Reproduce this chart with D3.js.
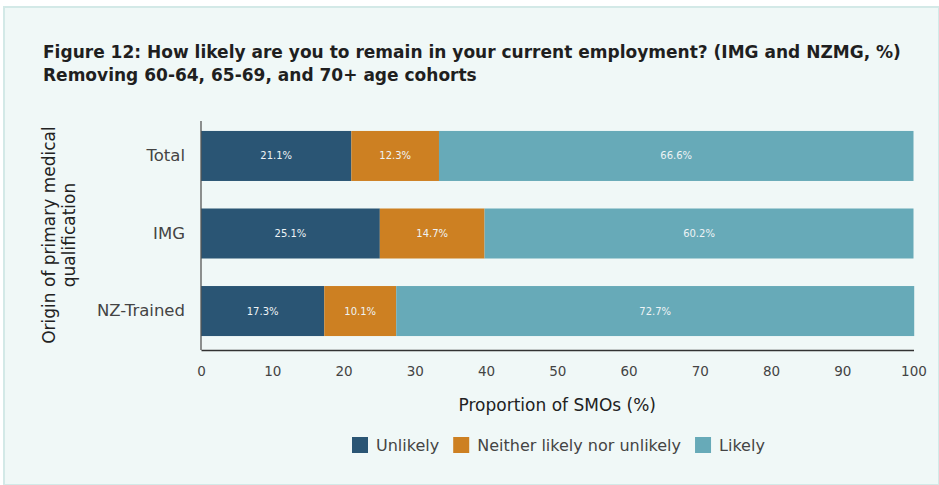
<!DOCTYPE html>
<html>
<head>
<meta charset="utf-8">
<script src="https://cdn.jsdelivr.net/npm/d3@7"></script>
<style>
  html, body { margin: 0; padding: 0; background: #ffffff; }
  svg { display: block; }
  text { font-family: "DejaVu Sans", "Noto Sans", sans-serif; }
</style>
</head>
<body>
<svg id="chart" width="939" height="485"></svg>
<script>
// Survey data: share of SMOs by likelihood of remaining in current employment
const categories = ["Total", "IMG", "NZ-Trained"];
const seriesNames = ["Unlikely", "Neither likely nor unlikely", "Likely"];
const unlikely = [21.1, 25.1, 17.3];
const neither = [12.3, 14.7, 10.1];
const likely = [66.6, 60.2, 72.7];
const xTicks = [0, 10, 20, 30, 40, 50, 60, 70, 80, 90, 100];
const colors = ["#2a5574", "#cd8022", "#67aab8"];

const svg = d3.select("#chart");
const W = 939, H = 485;

// Panel background with thin border
svg.append("rect").attr("x", 0).attr("y", 0).attr("width", W).attr("height", H).attr("fill", "#ffffff");
svg.append("rect").attr("x", 4).attr("y", 7).attr("width", W - 4).attr("height", H - 7)
  .attr("fill", "#f0f8f7").attr("stroke", "#d3e9e7").attr("stroke-width", 2);

// Title, sized so the first line spans the panel width
const title = svg.append("text").attr("font-weight", 700).attr("fill", "#1f1f1f").attr("font-size", 16);
const t1 = title.append("tspan").attr("x", 43).attr("y", 58)
  .text("Figure 12: How likely are you to remain in your current employment? (IMG and NZMG, %)");
title.append("tspan").attr("x", 43).attr("y", 81)
  .text("Removing 60-64, 65-69, and 70+ age cohorts");
const w1 = t1.node().getComputedTextLength();
title.attr("font-size", 16 * 859 / w1);

const xLeft = 201, xRight = 913.5, yTop = 117, yBottom = 350;
const x = d3.scaleLinear().domain([0, 100]).range([xLeft, xRight]);
const y = d3.scaleBand().domain(categories).range([yTop, yBottom]).paddingInner(0.355).paddingOuter(0.18);

const rows = categories.map((c, i) => ({ category: c, Unlikely: unlikely[i], Neither: neither[i], Likely: likely[i] }));
const keys = ["Unlikely", "Neither", "Likely"];
const stack = d3.stack().keys(keys)(rows);

const g = svg.append("g");
stack.forEach((layer, li) => {
  g.selectAll(null).data(layer).enter().append("rect")
    .attr("x", d => x(d[0]))
    .attr("y", d => y(d.data.category))
    .attr("width", d => x(d[1]) - x(d[0]))
    .attr("height", y.bandwidth())
    .attr("fill", colors[li]);
  g.selectAll(null).data(layer).enter().append("text")
    .attr("x", d => (x(d[0]) + x(d[1])) / 2)
    .attr("y", d => y(d.data.category) + y.bandwidth() / 2)
    .attr("dy", "0.35em")
    .attr("text-anchor", "middle")
    .attr("font-size", 10)
    .attr("fill", "#eef3f5")
    .text(d => (d[1] - d[0]).toFixed(1) + "%");
});

// Axes
const xAxis = svg.append("g").attr("transform", `translate(0,${yBottom})`)
  .call(d3.axisBottom(x).tickValues(xTicks).tickSize(0).tickPadding(16));
xAxis.select(".domain").attr("stroke", "#333").attr("stroke-width", 1.3);
xAxis.selectAll("text").attr("font-size", 13.5).attr("fill", "#444")
  .style("font-family", "'DejaVu Sans', sans-serif");

const yAxis = svg.append("g").attr("transform", `translate(${xLeft},0)`)
  .call(d3.axisLeft(y).tickSize(0).tickPadding(16));
yAxis.select(".domain").attr("d", `M0,121V${yBottom}`).attr("stroke", "#555").attr("stroke-width", 1.3);
yAxis.selectAll("text").attr("font-size", 16.5).attr("fill", "#444")
  .style("font-family", "'DejaVu Sans', sans-serif");

// Axis titles
svg.append("text").attr("x", x(50)).attr("y", 411).attr("text-anchor", "middle")
  .attr("font-size", 17).attr("fill", "#222")
  .text("Proportion of SMOs (%)");

const yTitle = svg.append("text").attr("transform", "translate(0,235) rotate(-90)")
  .attr("text-anchor", "middle").attr("font-size", 17).attr("fill", "#222");
yTitle.append("tspan").attr("x", 0).attr("y", 55).text("Origin of primary medical");
yTitle.append("tspan").attr("x", 0).attr("y", 75).text("qualification");

// Legend
const legendItems = seriesNames.map((n, i) => ({ name: n, color: colors[i] }));
const legend = svg.append("g").attr("transform", "translate(0,445)");
let lx = 352;
legendItems.forEach(item => {
  const it = legend.append("g").attr("transform", `translate(${lx},0)`);
  it.append("rect").attr("x", 0).attr("y", -8).attr("width", 16).attr("height", 16).attr("fill", item.color);
  const t = it.append("text").attr("x", 24).attr("y", 0).attr("dy", "0.35em")
    .attr("font-size", 16).attr("fill", "#444").text(item.name);
  lx += 24 + t.node().getComputedTextLength() + 14;
});
</script>
</body>
</html>
